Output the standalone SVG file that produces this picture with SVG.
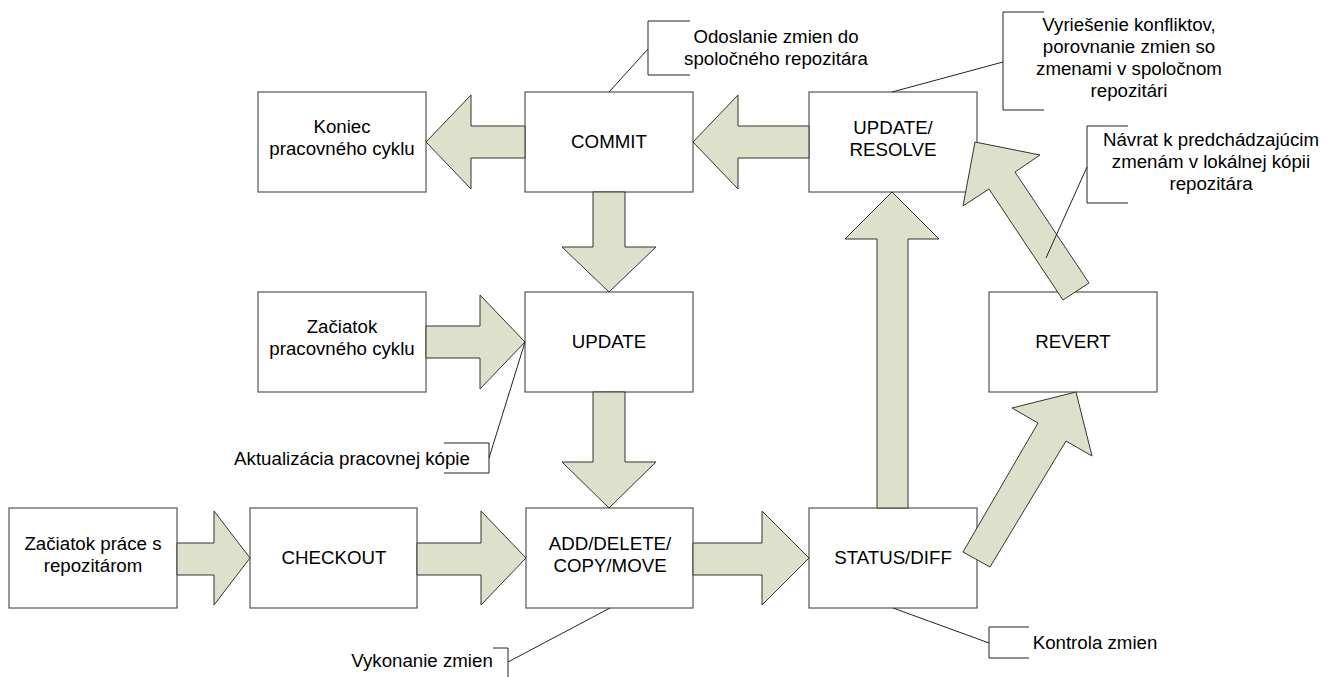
<svg xmlns="http://www.w3.org/2000/svg" width="1327" height="677" viewBox="0 0 1327 677">
<style>
.box{fill:#fff;stroke:#555;stroke-width:1.2}
.arr{fill:#dde0cb;stroke:#333;stroke-width:1}
.co{fill:none;stroke:#222;stroke-width:1}
text{font-family:"Liberation Sans",Arial,sans-serif;font-size:18.7px;fill:#000;text-anchor:middle}
</style>
<rect width="1327" height="677" fill="#fff"/>
<g id="n-koniec"><rect class="box" x="258" y="92" width="168" height="100"/><text x="342" y="133">Koniec</text><text x="342" y="155">pracovného cyklu</text></g>
<g id="n-commit"><rect class="box" x="525" y="92" width="168" height="100"/><text x="609" y="148">COMMIT</text></g>
<g id="n-resolve"><rect class="box" x="809" y="92" width="168" height="100"/><text x="893" y="134">UPDATE/</text><text x="893" y="156">RESOLVE</text></g>
<g id="n-zacatok-cyklu"><rect class="box" x="258" y="292" width="168" height="100"/><text x="342" y="333">Začiatok</text><text x="342" y="355">pracovného cyklu</text></g>
<g id="n-update"><rect class="box" x="525" y="292" width="168" height="100"/><text x="609" y="348">UPDATE</text></g>
<g id="n-revert"><rect class="box" x="989" y="292" width="168" height="100"/><text x="1073" y="348">REVERT</text></g>
<g id="n-zacatok-prace"><rect class="box" x="9" y="508" width="168" height="100"/><text x="93" y="550">Začiatok práce s</text><text x="93" y="572">repozitárom</text></g>
<g id="n-checkout"><rect class="box" x="250" y="508" width="167" height="100"/><text x="334" y="564">CHECKOUT</text></g>
<g id="n-add"><rect class="box" x="526" y="508" width="167" height="100"/><text x="610" y="550">ADD/DELETE/</text><text x="610" y="572">COPY/MOVE</text></g>
<g id="n-status"><rect class="box" x="809" y="508" width="168" height="100"/><text x="893" y="564">STATUS/DIFF</text></g>
<g id="connectors">
<polygon class="arr" points="426,142 471,95 471,126 525,126 525,158 471,158 471,189"/>
<polygon class="arr" points="693,142 738,95 738,126 809,126 809,158 738,158 738,189"/>
<polygon class="arr" points="426,326 480,326 480,295 525,342 480,389 480,358 426,358"/>
<polygon class="arr" points="177,543 214,543 214,511 250,558 214,605 214,575 177,575"/>
<polygon class="arr" points="417,543 481,543 481,511 526,558 481,605 481,575 417,575"/>
<polygon class="arr" points="693,543 762,543 762,511 809,558 762,605 762,575 693,575"/>
<polygon class="arr" points="593,192 625,192 625,247 656,247 609,292 562,247 593,247"/>
<polygon class="arr" points="593,392 625,392 625,462 656,462 609,508 562,462 593,462"/>
<polygon class="arr" points="877,508 877,239 845,239 892,192 939,239 908,239 908,508"/>
<polygon class="arr" points="963,552 1038,423 1012,408 1076,392 1092,456 1066,441 990,567"/>
<polygon class="arr" points="1063,300 989,189 963,206 975,142 1040,155 1015,172 1089,283"/>
</g>
<g id="callouts">
<g id="c-odoslanie"><path class="co" d="M690,21 H648 V75 H690 M648,49 L609,92"/><text x="776" y="43">Odoslanie zmien do</text><text x="776" y="65">spoločného repozitára</text></g>
<g id="c-vyriesenie"><path class="co" d="M1044,12 H1003 V110 H1044 M1003,62 L892,92"/><text x="1129" y="31">Vyriešenie konfliktov,</text><text x="1129" y="53">porovnanie zmien so</text><text x="1129" y="75">zmenami v spoločnom</text><text x="1129" y="97">repozitári</text></g>
<g id="c-navrat"><path class="co" d="M1128,126 H1087 V203 H1128 M1087,167 L1046,258"/><text x="1211" y="146">Návrat k predchádzajúcim</text><text x="1211" y="168">zmenám v lokálnej kópii</text><text x="1211" y="190">repozitára</text></g>
<g id="c-aktualizacia"><path class="co" d="M444,443 H489 V473 H444 M489,458 L525,342"/><text x="352" y="465">Aktualizácia pracovnej kópie</text></g>
<g id="c-vykonanie"><path class="co" d="M493,648 H508 V677 M508,662 L610,608"/><text x="422" y="667">Vykonanie zmien</text></g>
<g id="c-kontrola"><path class="co" d="M1029,627 H989 V658 H1029 M989,643 L893,608"/><text x="1095" y="649">Kontrola zmien</text></g>
</g>
</svg>
